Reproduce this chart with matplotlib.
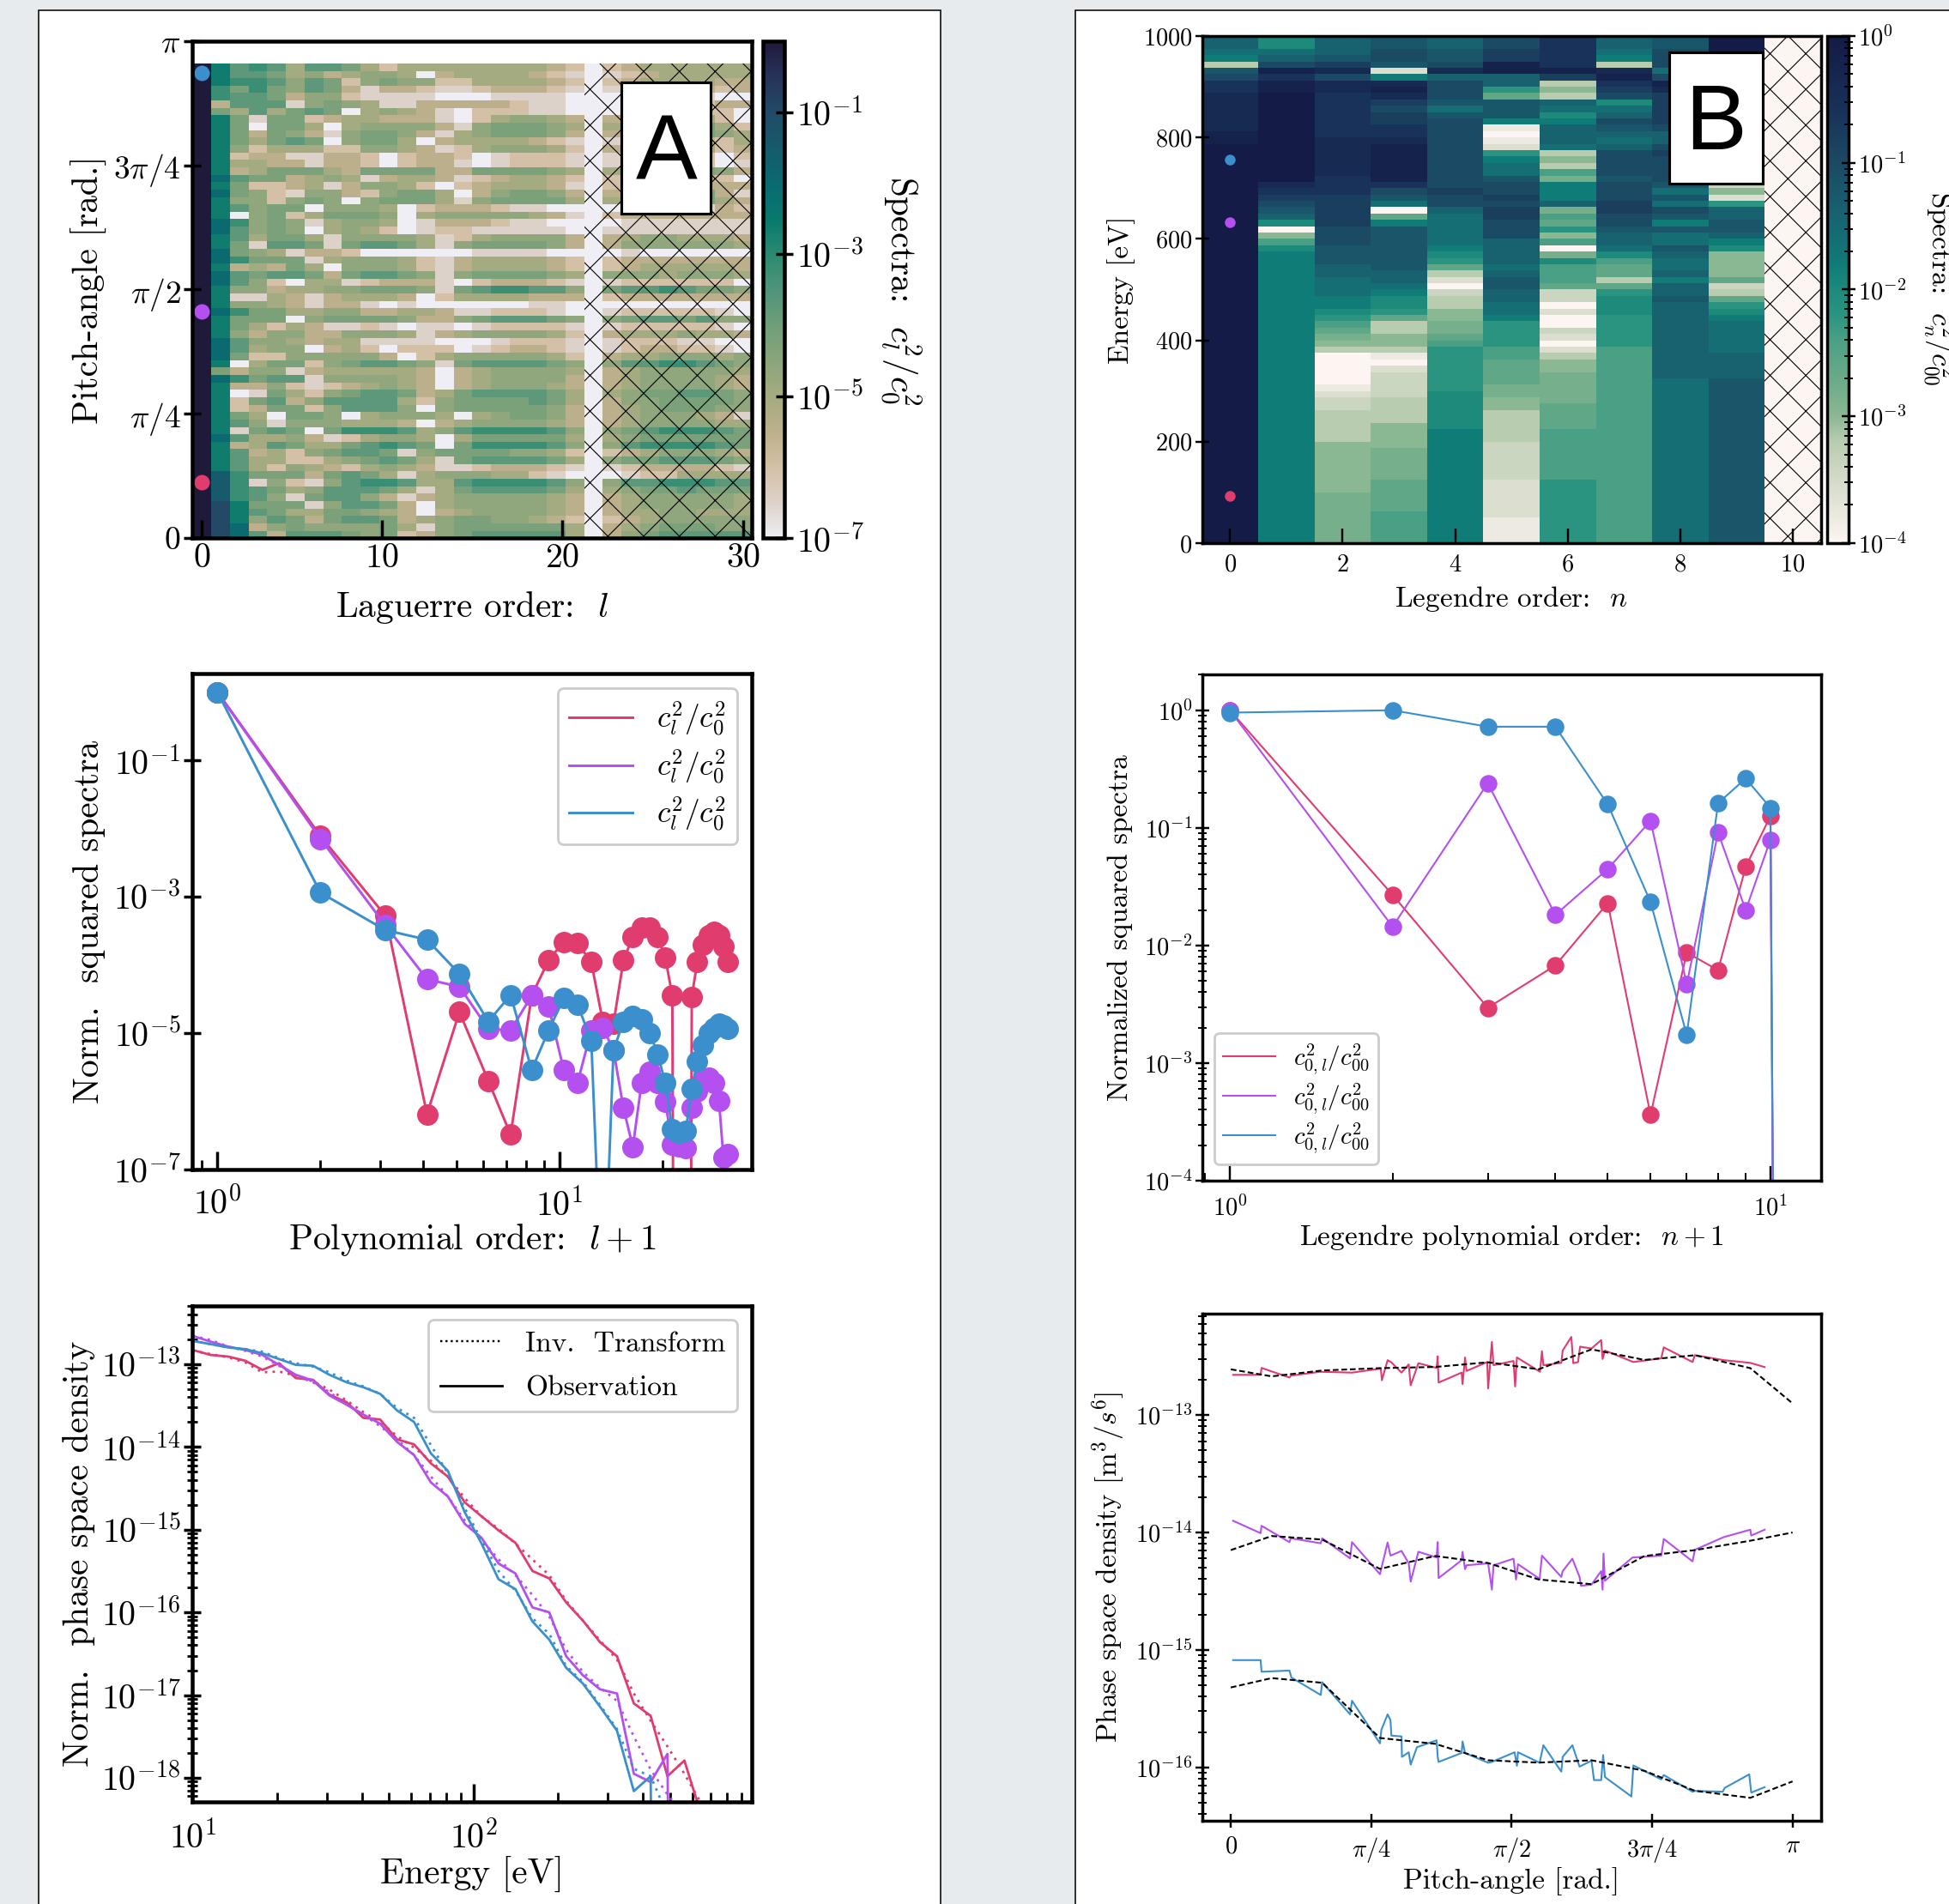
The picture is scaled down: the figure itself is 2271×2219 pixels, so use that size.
# -*- coding: utf-8 -*-
# spectra figure: two columns (Laguerre / Legendre), heatmap + spectra + density
import numpy as np
import matplotlib
matplotlib.use("Agg")
import matplotlib.pyplot as plt
from matplotlib.colors import LinearSegmentedColormap, LogNorm
from matplotlib.patches import Rectangle
from matplotlib.ticker import LogLocator, NullFormatter, NullLocator

plt.rcParams["font.family"] = "cmr10"
plt.rcParams["mathtext.fontset"] = "cm"
plt.rcParams["axes.formatter.use_mathtext"] = True
plt.rcParams["axes.unicode_minus"] = False
plt.rcParams["hatch.linewidth"] = 0.32

RED = "#e03c6e"
PURPLE = "#b44ff0"
BLUE = "#3a8fcc"

# heatmap A, top row first, one char per Laguerre order, char indexes level_exponents_l
level_exponents_l = [-7, -6.5, -6, -5.5, -5, -4.6, -4.2, -3.7, -3.2, -2.6, -2, -1.5, -1, -0.5, 0]
spectra_l_levels = [
    "e97874776424444444432023444444",
    "e97764534554034444321012344444",
    "e98875762565522444432023444433",
    "e86865763133211233321013333323",
    "e87763552111100011110001111100",
    "e37771565411333332110001222233",
    "e64746760454310222110001222220",
    "e96166234433310245543034555420",
    "e96066404555531566654045666642",
    "e96365315665314566653034666654",
    "e96467605664034444321012333324",
    "e95244422554312455542034555423",
    "e92331133202332012221012222202",
    "e94433133202331012221012222201",
    "e93466643666633666654045666653",
    "ea7663454134431234432023444320",
    "e96223413554202344431023444333",
    "ea6521553256640356653034666631",
    "e95525650566641566664045666643",
    "e97566055540233321100002222132",
    "e90562466650455555431023333333",
    "ea8565145540133321100001111111",
    "ea7565045420122111110011111111",
    "e97466415555412455553034554443",
    "e96177616776415666653035555554",
    "ea6541332000000111100001000000",
    "ea8666145554213444432023333333",
    "e93436405554213444432023444443",
    "ea7677636776515666654055545554",
    "ea7520441233310233321012222220",
    "e95534455666516788775067787665",
    "e91143134443024444333023333333",
    "e95543133101000000110000000000",
    "ea8664455334431122210012222210",
    "e96660566665335677765056776755",
    "e96424311210110122221012222210",
    "e95355335554134555542034445443",
    "ea7554344111100012221012221100",
    "ea7455034202220123321012332210",
    "ea6225555530245555542034455545",
    "e90466256776516777765057788765",
    "e63551344444303455554034555554",
    "ea8677155554303455553034555543",
    "e93352123454303455543034555543",
    "e90164256776346777764045667765",
    "e92673577774256666764035566665",
    "e92366257775056666653034566655",
    "e96406650455540456653034555431",
    "e97515554443034555543034555544",
    "e91676068887457888875056788876",
    "ea7445312455404666664045666666",
    "e93476446787606888875057888876",
    "e97342567761566665542023455543",
    "e97442245676416777764056677765",
    "e97425432454311233321012333321",
    "eb8666367641455544210001224444",
    "eb8152157887447888875057788877",
    "eb8764577764146777764045667666",
    "eb8751677531345555543034555554",
    "ec9666157763045555543034555554",
    "ec9764466543034555543034455444",
    "ec9576367763456655432023455555",
    "eca356555564156666664034566655",
    "eca737776562356777774035677777",
]

# heatmap B, one string per Legendre order, top (1000 eV) first,
# exponent = -4 + 0.2 * level
spectra_n_levels = [
    "ddcb4efhhiiiiiijj" + "k" * 63,
    "aacdfjhjj" + "k" * 14 + "ihgfeda058a" + "b" * 46,
    "dddegifii" + "h" * 7 + "i" * 6 + "hhh" + "g" * 5 + "fffeeeddcccbb" + "a987654"
    + "00000" + "12334" + "44445" + "5555555" + "66666666",
    "eeffe2bijig" + "fgghhi" + "jjjjjj" + "hfec07b" + "eeeeeee" + "ddcbaa97"
    + "4455" + "4102" + "3" + "333" + "4444" + "5555" + "66666" + "77777" + "88888",
    "ddeefid" + "fff" + "ece" + "f" * 10 + "fgff" + "d" + "ccccc" + "ba97" + "4203445566789"
    + "999999" + "aaaaaa" + "b" * 18,
    "ffggjjdd97eeeb1012" + "9bcce" + "ffgfgg" + "fff" + "dddd" + "cdeeddccb" + "9999" + "88"
    + "7777" + "66" + "55" + "44444" + "333333" + "222222" + "1111",
    "hhhhhjg454dcabddd" + "c454" + "86bbbd" + "6879580" + "6a8887" + "33020032024556"
    + "6666" + "7777" + "88888888" + "9" * 10,
    "ddcb4ijhgf" + "acdfedcd" + "ffff" + "e" + "fffgg" + "ffe" + "dd" + "ca87747" + "9aaa"
    + "99999" + "8" * 31,
    "eefffcfjigggggfddfgffff" + "ececfebeccedccdbdded" + "d" * 11 + "c" * 26,
    "k" * 23 + "3529ddeedba" + "5555" + "734" + "79ab" + "ccccc" + "dddd" + "eeee" + "e" * 22,
    "0" * 80,
]

# colour anchors (exponent, colour)
cmap_l_anchors = [(-7, "#eeeef4"), (-6.5, "#ddd2c8"), (-6, "#d4c0a6"), (-5.5, "#bcb08c"),
                  (-5, "#a5ab80"), (-4.5, "#8aa57c"), (-4, "#6f9e78"), (-3.5, "#4f947a"),
                  (-3, "#2b8a70"), (-2.5, "#08796e"), (-2, "#0a6a70"), (-1.5, "#165a6c"),
                  (-1, "#224a66"), (-0.5, "#26335a"), (0, "#1f1a3a")]
cmap_n_anchors = [(-4, "#fdf5f2"), (-3.6, "#dcdfd0"), (-3.2, "#b8ccb0"), (-3, "#8ab892"),
                  (-2.7, "#6aaa88"), (-2.4, "#4aa085"), (-2.2, "#2a9480"), (-2, "#1d8a7c"),
                  (-1.8, "#107c78"), (-1.6, "#146e74"), (-1.4, "#186270"), (-1.2, "#1a566a"),
                  (-1, "#1b4a64"), (-0.8, "#1a3f5e"), (-0.6, "#18325a"), (-0.4, "#172a52"),
                  (-0.2, "#15224c"), (0, "#141b47")]

# marked slices in the heatmaps
marks_pitch = [0.353, 1.43, 2.94]
marks_energy = [93, 632, 757]

# panel A spectra, log10 of value
poly_order_l = [1, 2, 3.1, 4.1, 5.1, 6.2, 7.2, 8.3, 9.3, 10.3, 11.3, 12.4, 13.4, 14.4, 15.4, 16.4,
                17.4, 18.4, 19.4, 20.4, 21.4, 22.4, 23.4, 24.4, 25.3, 26.3, 27.3, 28.3, 29.3, 30.2, 31]
spec_l_red = [0, -2.11, -3.28, -6.19, -4.69, -5.70, -6.49, -4.45, -3.93, -3.66, -3.68, -3.96, -4.83,
              -4.86, -3.93, -3.59, -3.45, -3.45, -3.59, -3.89, -4.45, -30, -30, -4.47, -3.96, -3.70,
              -3.56, -3.52, -3.57, -3.73, -3.96]
spec_l_purple = [0, -2.15, -3.42, -4.21, -4.32, -4.94, -4.96, -4.45, -4.61, -5.54, -5.73, -4.96, -4.92,
                 -5.25, -6.10, -6.67, -5.73, -5.56, -5.73, -6.01, -6.63, -6.66, -6.69, -6.10, -5.85,
                 -5.68, -5.65, -5.73, -5.99, -6.83, -6.77]
spec_l_blue = [0, -2.94, -3.49, -3.63, -4.13, -4.83, -4.44, -5.54, -4.96, -4.49, -4.58, -5.11, -9.3,
               -5.25, -4.83, -4.75, -4.80, -5.0, -5.31, -5.73, -6.41, -6.46, -6.44, -5.82, -5.42,
               -5.17, -5.0, -4.92, -4.86, -4.89, -4.94]

# panel A density vs energy, log10 of value
energy = [10.0, 11.6, 13.4, 15.4, 17.7, 20.3, 23.3, 26.8, 30.7, 35.3, 40.5, 46.5, 53.4, 61.4, 70.5, 81,
          93, 106.8, 122.7, 141, 162, 186, 213.6, 245, 282, 324, 372, 427, 490, 563, 647, 743]
psd_red = [-12.83, -12.89, -12.91, -12.96, -13.07, -12.99, -13.17, -13.19, -13.37, -13.46, -13.65,
           -13.67, -13.91, -13.97, -14.20, -14.36, -14.67, -14.84, -15.01, -15.16, -15.50, -15.59,
           -15.88, -16.10, -16.36, -16.53, -17.10, -17.25, -17.98, -17.79, -18.45]
psd_red_inv = [-12.84, -12.88, -12.92, -12.98, -13.10, -13.09, -13.14, -13.21, -13.31, -13.44, -13.58,
               -13.70, -13.87, -14.01, -14.17, -14.36, -14.62, -14.84, -14.99, -15.17, -15.36, -15.55,
               -15.86, -16.10, -16.34, -16.57, -16.98, -17.31, -17.62, -17.95, -18.31, -18.74]
psd_purple = [-12.66, -12.73, -12.79, -12.83, -12.89, -13.01, -13.13, -13.20, -13.38, -13.49, -13.61,
              -13.72, -13.94, -14.10, -14.43, -14.60, -14.93, -15.10, -15.41, -15.53, -15.94, -16.00,
              -16.53, -16.76, -16.93, -16.98, -17.95, -18.05, -17.71, -40]
psd_purple_inv = [-12.66, -12.71, -12.79, -12.84, -12.91, -13.02, -13.14, -13.22, -13.34, -13.49, -13.61,
                  -13.75, -13.91, -14.10, -14.36, -14.60, -14.89, -15.12, -15.36, -15.55, -15.79,
                  -16.05, -16.45, -16.72, -16.91, -17.07, -17.50, -17.90, -18.20, -18.45]
psd_blue = [-12.72, -12.76, -12.80, -12.82, -12.87, -12.94, -13.01, -13.02, -13.13, -13.22, -13.28,
            -13.36, -13.56, -13.70, -14.08, -14.29, -14.79, -15.17, -15.60, -15.72, -16.11, -16.33,
            -16.67, -16.86, -17.14, -17.43, -18.16, -17.98, -40]
psd_blue_inv = [-12.72, -12.76, -12.80, -12.82, -12.85, -12.93, -12.99, -13.03, -13.10, -13.20, -13.27,
                -13.36, -13.53, -13.65, -13.98, -14.32, -14.74, -15.13, -15.50, -15.74, -16.07, -16.26,
                -16.65, -16.84, -17.12, -17.41, -17.89, -17.98, -18.45]

# panel B spectra, log10 of value
poly_order_n = [1, 2, 3, 4, 5, 6, 7, 8, 9, 10, 11]
spec_n_red = [0, -1.57, -2.53, -2.17, -1.64, -3.44, -2.06, -2.21, -1.33, -0.90, -30]
spec_n_purple = [0, -1.84, -0.62, -1.74, -1.35, -0.94, -2.33, -1.04, -1.70, -1.10, -30]
spec_n_blue = [-0.02, 0, -0.14, -0.14, -0.80, -1.63, -2.76, -0.79, -0.58, -0.83, -30]

# panel B density vs pitch angle, log10 of value
angle_fit = [0, 0.229, 0.511, 0.834, 1.143, 1.439, 1.721, 2.017, 2.313, 2.595, 2.905, 3.141]
fit_red = [-12.61, -12.67, -12.62, -12.60, -12.59, -12.55, -12.61, -12.44, -12.53, -12.49, -12.60, -12.90]
fit_purple = [-14.15, -14.03, -14.06, -14.31, -14.20, -14.26, -14.40, -14.44, -14.20, -14.15, -14.07, -14.00]
fit_blue = [-15.32, -15.24, -15.28, -15.75, -15.80, -15.94, -15.96, -15.94, -16.03, -16.20, -16.26, -16.12]

angle_red = [.013, .167, .172, .328, .336, .498, .678, .834, .839, .845, .877, .896, .955, .995, 1.006,
             1.049, 1.151, 1.157, 1.162, 1.291, 1.296, 1.310, 1.318, 1.434, 1.439, 1.460, 1.469, 1.581,
             1.590, 1.600, 1.729, 1.740, 1.748, 1.848, 1.856, 1.904, 1.915, 1.942, 1.953, 2.017, 2.071,
             2.079, 2.092, 2.251, 2.407, 2.421, 2.582, 2.595, 2.757, 2.905, 2.985]
obs_red = [-12.657, -12.657, -12.598, -12.680, -12.664, -12.631, -12.638, -12.605, -12.605, -12.703,
           -12.532, -12.548, -12.638, -12.568, -12.746, -12.558, -12.598, -12.499, -12.723, -12.638,
           -12.736, -12.509, -12.624, -12.548, -12.773, -12.377, -12.575, -12.539, -12.756, -12.509,
           -12.631, -12.456, -12.575, -12.555, -12.450, -12.334, -12.558, -12.548, -12.417, -12.433,
           -12.361, -12.522, -12.450, -12.548, -12.516, -12.423, -12.548, -12.489, -12.532, -12.555,
           -12.591]
angle_purple = [.013, .167, .172, .328, .336, .503, .511, .667, .678, .834, .877, .893, .955, .995, 1.006,
                1.049, 1.151, 1.157, 1.162, 1.291, 1.296, 1.310, 1.318, 1.439, 1.460, 1.469, 1.581,
                1.595, 1.606, 1.727, 1.740, 1.848, 1.856, 1.910, 1.950, 1.958, 2.017, 2.071, 2.079,
                2.084, 2.092, 2.246, 2.407, 2.421, 2.582, 2.595, 2.757, 2.905, 2.910, 2.985]
obs_purple = [-13.900, -14.006, -13.943, -14.082, -14.049, -14.092, -14.049, -14.220, -14.082, -14.355,
              -14.085, -14.197, -14.157, -14.263, -14.418, -14.164, -14.213, -14.082, -14.388, -14.236,
              -14.164, -14.312, -14.279, -14.263, -14.487, -14.279, -14.223, -14.401, -14.270, -14.395,
              -14.197, -14.378, -14.329, -14.223, -14.378, -14.454, -14.444, -14.329, -14.487, -14.180,
              -14.411, -14.213, -14.197, -14.055, -14.246, -14.147, -14.039, -13.976, -14.026, -13.976]
angle_blue = [.013, .167, .172, .328, .339, .503, .511, .667, .678, .834, .842, .877, .893, .898, .955,
              .957, .995, 1.006, 1.041, 1.151, 1.157, 1.162, 1.291, 1.296, 1.310, 1.439, 1.460, 1.587,
              1.600, 1.606, 1.727, 1.748, 1.848, 1.856, 1.910, 1.950, 2.017, 2.031, 2.071, 2.082, 2.092,
              2.240, 2.251, 2.407, 2.421, 2.582, 2.595, 2.751, 2.762, 2.899, 2.910, 2.985]
obs_blue = [-15.087, -15.087, -15.186, -15.176, -15.235, -15.384, -15.275, -15.549, -15.433, -15.796,
            -15.681, -15.549, -15.598, -15.730, -15.737, -15.911, -15.872, -15.977, -15.829, -15.770,
            -15.911, -15.954, -15.878, -15.780, -15.878, -15.961, -15.954, -15.872, -15.987, -15.872,
            -15.961, -15.812, -16.037, -15.911, -15.812, -15.994, -15.944, -16.109, -16.109, -15.895,
            -16.083, -16.248, -15.984, -16.103, -16.066, -16.208, -16.201, -16.208, -16.175, -16.060,
            -16.215, -16.169]


def box(left, top, right, bottom):
    # coordinates measured on the 1568x1532 view
    return [left / 1568, 1 - bottom / 1532, (right - left) / 1568, (bottom - top) / 1532]


def make_cmap(anchors, name):
    low, high = anchors[0][0], anchors[-1][0]
    pts = [((e - low) / (high - low), c) for e, c in anchors]
    return LinearSegmentedColormap.from_list(name, pts, N=512)


def decode(strings):
    return np.array([[int(ch, 36) for ch in s] for s in strings])


def exp10(values):
    return 10.0 ** np.array(values, dtype=float)


def style_axis(ax, width, tick_len, tick_w, size, xpad, ypad):
    for s in ax.spines.values():
        s.set_linewidth(width)
    ax.tick_params(which="major", direction="inout", length=tick_len, width=tick_w, labelsize=size)
    ax.tick_params(which="minor", direction="inout", length=tick_len * 0.55, width=tick_w * 0.8)
    ax.tick_params(axis="x", which="major", pad=xpad)
    ax.tick_params(axis="y", which="major", pad=ypad)


def inward_x(ax, pad):
    # the x ticks of these panels only point into the axes
    ax.tick_params(axis="x", which="both", direction="in")
    ax.tick_params(axis="x", which="major", pad=pad)


def decades(axis, low, high):
    axis.set_ticks([10.0 ** k for k in range(low, high + 1)])
    axis.set_minor_locator(LogLocator(base=10, subs=np.arange(2, 10), numticks=40))
    axis.set_minor_formatter(NullFormatter())


def letter_box(fig, rect, letter):
    fig.add_artist(Rectangle((rect[0], rect[1]), rect[2], rect[3], transform=fig.transFigure,
                             facecolor="white", edgecolor="black", linewidth=0.9, zorder=6))
    fig.text(rect[0] + rect[2] / 2, rect[1] + rect[3] / 2 - 0.004, letter, family="Liberation Sans",
             fontsize=31, ha="center", va="center", zorder=7)


fig = plt.figure(figsize=(2271 / 250, 2219 / 250), dpi=250, facecolor="#e7ebed")

# white panels behind each column
for rect in [box(31, 8, 757, 1600), box(865, 8, 1640, 1600)]:
    fig.add_artist(Rectangle((rect[0], rect[1]), rect[2], rect[3], transform=fig.transFigure,
                             facecolor="white", edgecolor="black", linewidth=0.45, zorder=-5))

pitch_ticks = [0, np.pi / 4, np.pi / 2, 3 * np.pi / 4, np.pi]
pitch_labels = ["$0$", r"$\pi/4$", r"$\pi/2$", r"$3\pi/4$", r"$\pi$"]

# ---- column A ----
cmap_l = make_cmap(cmap_l_anchors, "spec_l")
norm_l = LogNorm(1e-7, 1)
z_l = 10.0 ** np.array(level_exponents_l)[decode(spectra_l_levels)[::-1]]
l_edges = np.linspace(-0.5, 30.5, z_l.shape[1] + 1)
p_edges = np.linspace(0, 3.0, z_l.shape[0] + 1)

ax = fig.add_axes(box(155, 33, 605, 433))
mesh = ax.pcolormesh(l_edges, p_edges, z_l, cmap=cmap_l, norm=norm_l, antialiased=False, linewidth=0)
ax.add_patch(Rectangle((l_edges[21], 0), l_edges[-1] - l_edges[21], 3.0, fill=False, hatch="xx",
                       edgecolor="black", linewidth=0))
for p, c in zip(marks_pitch, [RED, PURPLE, BLUE]):
    ax.plot([0], [p], "o", color=c, ms=5.2, mew=0)
ax.set_xlim(-0.5, 30.5)
ax.set_ylim(0, np.pi)
ax.set_xticks([0, 10, 20, 30])
ax.set_xticklabels(["$0$", "$10$", "$20$", "$30$"])
ax.set_yticks(pitch_ticks)
ax.set_yticklabels(pitch_labels)
ax.set_xlabel(r"Laguerre order:  $l$", fontsize=11.9, labelpad=5.2)
ax.set_ylabel("Pitch-angle [rad.]", fontsize=11.9, labelpad=2.2)
style_axis(ax, 1.3, 6, 1.0, 11.5, 1.7, 1)
inward_x(ax, 1.7)
ax.tick_params(axis="y", labelsize=10.8)

cax = fig.add_axes(box(614, 33, 631, 433))
cb = fig.colorbar(mesh, cax=cax)
cb.set_ticks([1e-1, 1e-3, 1e-5, 1e-7])
cb.ax.yaxis.set_minor_locator(NullLocator())
style_axis(cax, 1.3, 6, 1.0, 11.5, 1, 1)
fig.text(724 / 1568, 1 - 234 / 1532, r"Spectra:  $c_l^2/c_0^2$", rotation=270, fontsize=11.9,
         ha="center", va="center")
letter_box(fig, box(500, 66, 572, 172), "A")

# spectra vs polynomial order
ax = fig.add_axes(box(155, 542, 605, 941))
for vals, c in zip([spec_l_red, spec_l_purple, spec_l_blue], [RED, PURPLE, BLUE]):
    ax.plot(poly_order_l, exp10(vals), color=c, lw=0.85, label=r"$c_l^2/c_0^2$")
    ax.plot(poly_order_l, exp10(vals), "o", color=c, ms=7.2, mew=0)
ax.set_xscale("log")
ax.set_yscale("log")
ax.set_xlim(0.846, 36.6)
ax.set_ylim(1e-7, 1.87)
ax.yaxis.set_ticks([1e-1, 1e-3, 1e-5, 1e-7])
ax.yaxis.set_minor_locator(NullLocator())
ax.set_xlabel(r"Polynomial order:  $l + 1$", fontsize=11.9, labelpad=-0.3)
ax.set_ylabel("Norm.  squared spectra", fontsize=11.9, labelpad=2.4)
style_axis(ax, 1.3, 6, 1.0, 11.5, 3, 1)
inward_x(ax, 6)
leg = ax.legend(loc="upper right", fontsize=10.2, framealpha=1, borderpad=0.37, labelspacing=0.3,
                handlelength=2.1, handletextpad=0.78, bbox_to_anchor=(0.973, 0.97), borderaxespad=0)
leg.get_frame().set_linewidth(0.8)

# density vs energy
ax = fig.add_axes(box(155, 1051, 605, 1450))
for vals, inv, c in zip([psd_red, psd_purple, psd_blue], [psd_red_inv, psd_purple_inv, psd_blue_inv],
                        [RED, PURPLE, BLUE]):
    ax.plot(energy[:len(inv)], exp10(inv), color=c, lw=0.8, ls=(0, (1, 2.2)))
    ax.plot(energy[:len(vals)], exp10(vals), color=c, lw=0.8)
ax.plot([], [], color="black", lw=0.7, ls=(0, (1, 1.5)), label="Inv.  Transform")
ax.plot([], [], color="black", lw=0.8, label="Observation")
ax.set_xscale("log")
ax.set_yscale("log")
ax.set_xlim(10, 980)
ax.set_ylim(5.1e-19, 5e-13)
decades(ax.yaxis, -18, -13)
ax.set_xlabel("Energy [eV]", fontsize=11.9, labelpad=0.3)
ax.set_ylabel("Norm.  phase space density", fontsize=11.9, labelpad=2)
style_axis(ax, 1.3, 6, 1.0, 11.5, 3, 1)
inward_x(ax, 6)
leg = ax.legend(loc="upper right", fontsize=9.65, framealpha=1, borderpad=0.39, labelspacing=0.65,
                handlelength=2.15, handletextpad=0.82, bbox_to_anchor=(0.973, 0.972), borderaxespad=0)
leg.get_frame().set_linewidth(0.8)

# ---- column B ----
cmap_n = make_cmap(cmap_n_anchors, "spec_n")
norm_n = LogNorm(1e-4, 1)
z_n = 10.0 ** (-4 + 0.2 * decode(spectra_n_levels).T[::-1])
n_edges = np.linspace(-0.5, 10.5, z_n.shape[1] + 1)
e_edges = np.linspace(0, 1000, z_n.shape[0] + 1)

ax = fig.add_axes(box(967, 29, 1465, 437))
mesh = ax.pcolormesh(n_edges, e_edges, z_n, cmap=cmap_n, norm=norm_n, antialiased=False, linewidth=0)
ax.add_patch(Rectangle((9.5, 0), 1, 1000, fill=False, hatch="xx", edgecolor="black", linewidth=0))
for e, c in zip(marks_energy, [RED, PURPLE, BLUE]):
    ax.plot([0], [e], "o", color=c, ms=3.6, mew=0)
ax.set_xlim(-0.5, 10.5)
ax.set_ylim(0, 1000)
ax.set_xticks([0, 2, 4, 6, 8, 10])
ax.set_xticklabels(["$%d$" % v for v in [0, 2, 4, 6, 8, 10]])
ax.set_yticks([0, 200, 400, 600, 800, 1000])
ax.set_yticklabels(["$%d$" % v for v in [0, 200, 400, 600, 800, 1000]])
ax.set_xlabel(r"Legendre order:  $n$", fontsize=9.6, labelpad=2.7)
ax.set_ylabel("Energy [eV]", fontsize=9.6, labelpad=2.6)
style_axis(ax, 1.0, 4.8, 0.7, 8.2, 1.25, 0.8)
inward_x(ax, 3.65)

cax = fig.add_axes(box(1470, 29, 1487, 437))
cb = fig.colorbar(mesh, cax=cax)
cb.ax.yaxis.set_major_locator(LogLocator(base=10, numticks=6))
cb.ax.yaxis.set_minor_locator(LogLocator(base=10, subs=np.arange(2, 10), numticks=20))
cb.ax.yaxis.set_minor_formatter(NullFormatter())
style_axis(cax, 1.0, 4.8, 0.7, 8.2, 1, 0.8)
fig.text(1560 / 1568, 1 - 232 / 1532, r"Spectra:  $c_n^2/c_{00}^2$", rotation=270, fontsize=9.6,
         ha="center", va="center")
letter_box(fig, box(1343, 42, 1418, 148), "B")

# spectra vs Legendre order
ax = fig.add_axes(box(967, 543, 1465, 950))
for vals, c in zip([spec_n_red, spec_n_purple, spec_n_blue], [RED, PURPLE, BLUE]):
    ax.plot(poly_order_n, exp10(vals), color=c, lw=0.6, label=r"$c_{0,l}^2/c_{00}^2$")
    ax.plot(poly_order_n[:10], exp10(vals[:10]), "o", color=c, ms=5.9, mew=0)
ax.set_xscale("log")
ax.set_yscale("log")
ax.set_xlim(0.888, 12.4)
ax.set_ylim(1e-4, 2.0)
decades(ax.yaxis, -4, 0)
ax.set_xlabel(r"Legendre polynomial order:  $n + 1$", fontsize=9.6, labelpad=0.7)
ax.set_ylabel("Normalized squared spectra", fontsize=9.6, labelpad=3.7)
style_axis(ax, 1.0, 4.8, 0.7, 8.2, 2.5, 0.8)
inward_x(ax, 4.9)
leg = ax.legend(loc="lower left", fontsize=8.4, framealpha=1, borderpad=0.35, labelspacing=0.2,
                handlelength=2.1, handletextpad=0.7, bbox_to_anchor=(0.02, 0.032), borderaxespad=0)
leg.get_frame().set_linewidth(0.8)

# density vs pitch angle
ax = fig.add_axes(box(967, 1057, 1465, 1465))
series = [(angle_red, obs_red, fit_red, RED), (angle_purple, obs_purple, fit_purple, PURPLE),
          (angle_blue, obs_blue, fit_blue, BLUE)]
for ang, obs, fit, c in series:
    ax.plot(ang, exp10(obs), color=c, lw=0.6)
    ax.plot(angle_fit, exp10(fit), color="black", lw=0.6, ls=(0, (3.2, 1.6)))
ax.set_yscale("log")
ax.set_xlim(-0.161, 3.30)
ax.set_ylim(10 ** -16.455, 10 ** -12.136)
ax.set_xticks(pitch_ticks)
ax.set_xticklabels(pitch_labels)
decades(ax.yaxis, -16, -13)
ax.set_xlabel("Pitch-angle [rad.]", fontsize=9.6, labelpad=1.0)
ax.set_ylabel(r"Phase space density [m$^3$/$s^6$]", fontsize=9.6, labelpad=3)
style_axis(ax, 1.0, 4.8, 0.7, 8.2, 2.5, 0.8)

fig.savefig("out.png", dpi=250, facecolor=fig.get_facecolor())
